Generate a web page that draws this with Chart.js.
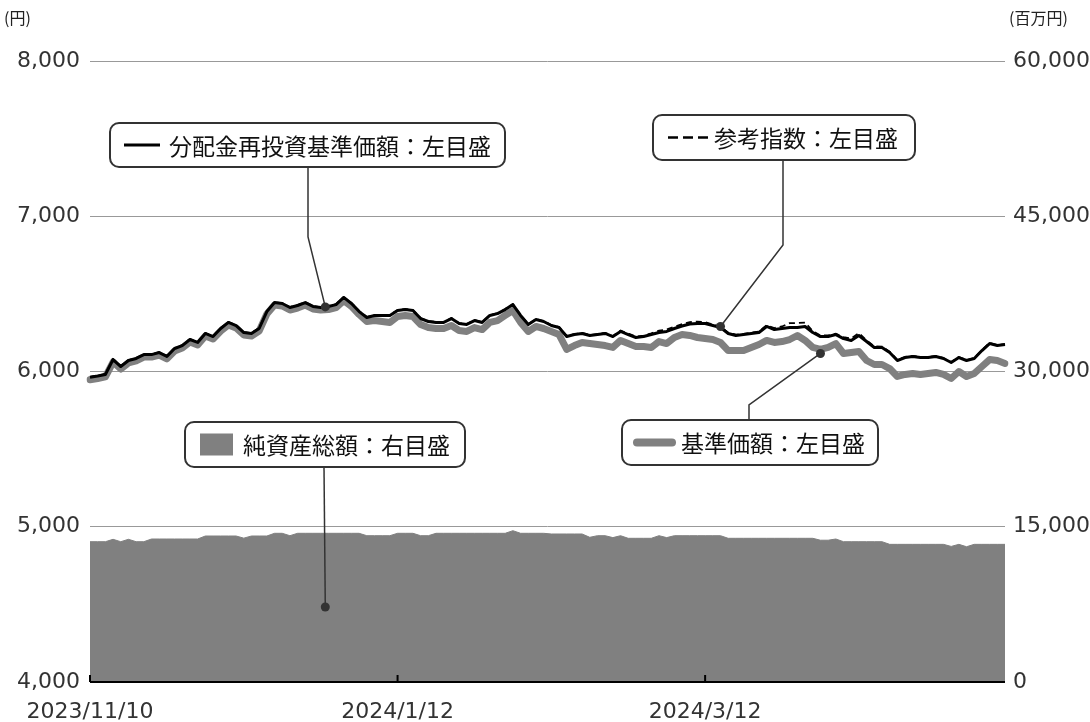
<!DOCTYPE html>
<html>
<head>
<meta charset="utf-8">
<script src="https://cdn.jsdelivr.net/npm/chart.js@4.4.1/dist/chart.umd.min.js"></script>
<style>
  html, body { margin: 0; padding: 0; background: #fff; }
  #wrap { width: 1090px; height: 722px; }
</style>
</head>
<body>
<div id="wrap"><canvas id="fund" width="1090" height="722"></canvas></div>
<script>
// trading days 2023/11/10 - 2024/5/10
const dates = [
  '2023/11/10','2023/11/13','2023/11/14','2023/11/15','2023/11/16','2023/11/17','2023/11/20','2023/11/21','2023/11/22','2023/11/24',
  '2023/11/27','2023/11/28','2023/11/29','2023/11/30','2023/12/1','2023/12/4','2023/12/5','2023/12/6','2023/12/7','2023/12/8',
  '2023/12/11','2023/12/12','2023/12/13','2023/12/14','2023/12/15','2023/12/18','2023/12/19','2023/12/20','2023/12/21','2023/12/22',
  '2023/12/25','2023/12/26','2023/12/27','2023/12/28','2023/12/29','2024/1/4','2024/1/5','2024/1/9','2024/1/10','2024/1/11',
  '2024/1/12','2024/1/15','2024/1/16','2024/1/17','2024/1/18','2024/1/19','2024/1/22','2024/1/23','2024/1/24','2024/1/25',
  '2024/1/26','2024/1/29','2024/1/30','2024/1/31','2024/2/1','2024/2/2','2024/2/5','2024/2/6','2024/2/7','2024/2/8',
  '2024/2/9','2024/2/13','2024/2/14','2024/2/15','2024/2/16','2024/2/19','2024/2/20','2024/2/21','2024/2/22','2024/2/26',
  '2024/2/27','2024/2/28','2024/2/29','2024/3/1','2024/3/4','2024/3/5','2024/3/6','2024/3/7','2024/3/8','2024/3/11',
  '2024/3/12','2024/3/13','2024/3/14','2024/3/15','2024/3/18','2024/3/19','2024/3/21','2024/3/22','2024/3/25','2024/3/26',
  '2024/3/27','2024/3/28','2024/3/29','2024/4/1','2024/4/2','2024/4/3','2024/4/4','2024/4/5','2024/4/8','2024/4/9',
  '2024/4/10','2024/4/11','2024/4/12','2024/4/15','2024/4/16','2024/4/17','2024/4/18','2024/4/19','2024/4/22','2024/4/23',
  '2024/4/24','2024/4/25','2024/4/26','2024/4/30','2024/5/1','2024/5/2','2024/5/7','2024/5/8','2024/5/9','2024/5/10'
];
const tickDates = ['2023/11/10', '2024/1/12', '2024/3/12'];

// 分配金再投資基準価額 (円)
const reinvested = [
  5963,5971,5981,6077,6032,6071,6084,6109,6109,6122,
  6097,6148,6167,6206,6187,6245,6225,6277,6316,6296,
  6251,6245,6277,6386,6444,6438,6412,6425,6444,6419,
  6412,6419,6431,6477,6438,6386,6348,6361,6361,6361,
  6393,6399,6393,6341,6322,6316,6316,6341,6309,6303,
  6328,6316,6361,6373,6399,6431,6361,6303,6335,6322,
  6296,6283,6225,6238,6245,6232,6238,6245,6225,6258,
  6238,6219,6225,6238,6251,6258,6277,6293,6306,6309,
  6309,6296,6283,6245,6232,6238,6245,6251,6290,6270,
  6277,6283,6283,6290,6251,6225,6225,6238,6212,6200,
  6232,6193,6155,6155,6122,6071,6090,6097,6090,6090,
  6097,6084,6058,6090,6071,6084,6135,6180,6167,6174
];

// 参考指数 (円)
const refIndex = [
  5965,5973,5984,6080,6035,6073,6086,6111,6112,6125,
  6099,6150,6170,6208,6190,6247,6228,6280,6318,6299,
  6254,6248,6280,6388,6446,6440,6415,6428,6447,6421,
  6415,6422,6434,6479,6441,6389,6351,6364,6364,6364,
  6396,6402,6396,6344,6325,6319,6319,6344,6312,6306,
  6331,6319,6364,6376,6402,6434,6364,6306,6338,6325,
  6299,6286,6228,6241,6248,6235,6241,6248,6228,6264,
  6244,6225,6231,6246,6263,6270,6289,6305,6318,6321,
  6318,6302,6290,6250,6237,6243,6250,6258,6298,6280,
  6290,6312,6312,6315,6260,6232,6232,6244,6222,6213,
  6247,6200,6162,6160,6127,6075,6094,6100,6094,6093,
  6100,6087,6061,6093,6074,6087,6138,6184,6170,6177
];

// 基準価額 (円)
const navPrice = [
  5947,5955,5965,6061,6016,6055,6068,6093,6093,6106,
  6081,6132,6151,6190,6171,6229,6209,6261,6300,6280,
  6235,6229,6261,6370,6428,6422,6396,6409,6428,6403,
  6396,6399,6412,6457,6419,6367,6322,6328,6322,6316,
  6354,6361,6354,6303,6283,6277,6277,6296,6264,6258,
  6283,6270,6316,6328,6361,6393,6316,6258,6290,6277,
  6258,6238,6142,6167,6187,6180,6174,6167,6155,6200,
  6180,6161,6161,6155,6193,6180,6219,6238,6232,6219,
  6212,6206,6187,6135,6135,6135,6155,6174,6200,6187,
  6193,6206,6232,6200,6155,6142,6155,6180,6116,6122,
  6129,6071,6045,6045,6019,5968,5981,5987,5981,5987,
  5994,5981,5955,6000,5968,5987,6032,6077,6071,6052
];

// 純資産総額 (百万円)
const netAssets = [
  13556,13556,13556,13787,13556,13787,13556,13556,13816,13816,
  13816,13816,13816,13816,13816,14106,14106,14106,14106,14106,
  13900,14106,14106,14106,14367,14367,14135,14367,14367,14367,
  14367,14367,14367,14367,14367,14367,14135,14135,14135,14135,
  14367,14367,14367,14135,14135,14367,14367,14367,14367,14367,
  14367,14367,14367,14367,14367,14619,14367,14367,14367,14367,
  14300,14300,14300,14300,14300,13980,14135,14135,13950,14135,
  13884,13884,13884,13884,14135,13950,14135,14135,14135,14135,
  14135,14135,14135,13884,13884,13884,13884,13884,13884,13884,
  13884,13884,13884,13884,13884,13700,13700,13816,13556,13556,
  13556,13556,13556,13556,13300,13300,13300,13300,13300,13300,
  13300,13300,13100,13300,13072,13300,13300,13300,13300,13300
];

const leftTicks = [4000, 5000, 6000, 7000, 8000];
const rightTicks = [0, 15000, 30000, 45000, 60000];

const GRAY = '#808080';
const INK = '#333333';
const FONT = '"Noto Sans CJK JP", "Noto Sans", sans-serif';
const NUM_FONT = '"DejaVu Sans", "Noto Sans CJK JP", sans-serif';

const roundRect = (ctx, x, y, w, h, r) => {
  ctx.beginPath();
  ctx.moveTo(x + r, y);
  ctx.arcTo(x + w, y, x + w, y + h, r);
  ctx.arcTo(x + w, y + h, x, y + h, r);
  ctx.arcTo(x, y + h, x, y, r);
  ctx.arcTo(x, y, x + w, y, r);
  ctx.closePath();
};

// boxes, leader lines, unit labels and the bottom axis
const decorations = {
  id: 'decorations',
  afterDatasetsDraw(chart) {
    const { ctx, chartArea, scales } = chart;
    const xs = scales.x, yl = scales.y, yr = scales.y2;
    ctx.save();

    // bottom axis line + inward ticks
    ctx.strokeStyle = '#000';
    ctx.lineWidth = 2;
    ctx.beginPath();
    ctx.moveTo(chartArea.left, chartArea.bottom);
    ctx.lineTo(chartArea.right, chartArea.bottom);
    tickDates.forEach(d => {
      const px = xs.getPixelForValue(dates.indexOf(d));
      ctx.moveTo(px, chartArea.bottom);
      ctx.lineTo(px, chartArea.bottom - 7);
    });
    ctx.stroke();

    // unit labels
    ctx.fillStyle = '#222';
    ctx.font = '16px ' + FONT;
    ctx.textBaseline = 'middle';
    ctx.textAlign = 'left';
    ctx.fillText('(円)', 4, 18);
    ctx.fillText('(百万円)', 1009, 18);

    // leader lines
    const leader = (pts, dot) => {
      ctx.strokeStyle = INK;
      ctx.lineWidth = 1.5;
      ctx.beginPath();
      ctx.moveTo(pts[0][0], pts[0][1]);
      pts.slice(1).forEach(p => ctx.lineTo(p[0], p[1]));
      ctx.lineTo(dot[0], dot[1]);
      ctx.stroke();
      ctx.fillStyle = INK;
      ctx.beginPath();
      ctx.arc(dot[0], dot[1], 4.5, 0, Math.PI * 2);
      ctx.fill();
    };
    const at = (i, v, axis) => [xs.getPixelForValue(i), axis.getPixelForValue(v)];

    leader([[308, 167], [308, 237]], at(30.6, 6416, yl));
    leader([[783, 160], [783, 245]], at(82, refIndex[82], yl));
    leader([[324, 467]], at(30.6, 7250, yr));
    const d4 = at(95, navPrice[95], yl);
    leader([[749, 420], [749, 405]], [d4[0], d4[1] + 4]);

    // annotation boxes
    const box = (x, y, w, h, text, tx, swatch) => {
      roundRect(ctx, x, y, w, h, 9);
      ctx.fillStyle = '#fff';
      ctx.fill();
      ctx.strokeStyle = INK;
      ctx.lineWidth = 2;
      ctx.stroke();
      swatch(y + h / 2);
      ctx.fillStyle = '#111';
      ctx.font = '23px ' + FONT;
      ctx.textAlign = 'left';
      ctx.textBaseline = 'middle';
      ctx.fillText(text, tx, y + h / 2 + 1);
    };

    box(110, 123, 395, 44, '分配金再投資基準価額：左目盛', 169, cy => {
      ctx.strokeStyle = '#000';
      ctx.lineWidth = 3;
      ctx.setLineDash([]);
      ctx.beginPath();
      ctx.moveTo(124, cy);
      ctx.lineTo(160, cy);
      ctx.stroke();
    });
    box(653, 115, 262, 45, '参考指数：左目盛', 714, cy => {
      ctx.strokeStyle = '#000';
      ctx.lineWidth = 2.5;
      ctx.setLineDash([10, 5]);
      ctx.beginPath();
      ctx.moveTo(668, cy);
      ctx.lineTo(708, cy);
      ctx.stroke();
      ctx.setLineDash([]);
    });
    box(185, 422, 280, 45, '純資産総額：右目盛', 243, cy => {
      ctx.fillStyle = GRAY;
      ctx.fillRect(200, cy - 11, 33, 22);
    });
    box(622, 420, 256, 45, '基準価額：左目盛', 681, cy => {
      ctx.strokeStyle = GRAY;
      ctx.lineWidth = 8;
      ctx.lineCap = 'round';
      ctx.beginPath();
      ctx.moveTo(637, cy);
      ctx.lineTo(672, cy);
      ctx.stroke();
      ctx.lineCap = 'butt';
    });

    ctx.restore();
  }
};

const tickFont = { family: NUM_FONT, size: 22, weight: 400 };

const buildChart = () => {
  const ctx = document.getElementById('fund');

  new Chart(ctx, {
    type: 'line',
    data: {
      labels: dates,
      datasets: [
        {
          label: '純資産総額',
          data: netAssets,
          yAxisID: 'y2',
          fill: 'origin',
          backgroundColor: GRAY,
          borderColor: GRAY,
          borderWidth: 1,
          pointRadius: 0,
          order: 4
        },
        {
          label: '基準価額',
          data: navPrice,
          yAxisID: 'y',
          borderColor: GRAY,
          borderWidth: 7,
          borderJoinStyle: 'round',
          borderCapStyle: 'round',
          pointRadius: 0,
          fill: false,
          order: 3
        },
        {
          label: '分配金再投資基準価額',
          data: reinvested,
          yAxisID: 'y',
          borderColor: '#000',
          borderWidth: 3,
          borderJoinStyle: 'round',
          pointRadius: 0,
          fill: false,
          order: 2
        },
        {
          label: '参考指数',
          data: refIndex,
          yAxisID: 'y',
          borderColor: '#000',
          borderWidth: 1.8,
          borderDash: [6, 4],
          pointRadius: 0,
          fill: false,
          order: 1
        }
      ]
    },
    options: {
      responsive: false,
      animation: false,
      devicePixelRatio: 1,
      layout: { padding: { top: 61, left: 0, right: 0, bottom: 0 } },
      plugins: {
        legend: { display: false },
        tooltip: { enabled: false }
      },
      scales: {
        x: {
          grid: { display: false },
          border: { display: false },
          ticks: {
            autoSkip: false,
            maxRotation: 0,
            padding: 9,
            color: '#333',
            font: tickFont,
            callback: (v, i) => tickDates.includes(dates[i]) ? dates[i] : ''
          },
          afterFit: s => { s.height = 40; }
        },
        y: {
          position: 'left',
          min: leftTicks[0],
          max: leftTicks[leftTicks.length - 1],
          afterBuildTicks: s => { s.ticks = leftTicks.map(v => ({ value: v })); },
          grid: { color: '#999', lineWidth: 1, drawTicks: false },
          border: { display: false },
          ticks: {
            padding: 10,
            color: '#333',
            font: tickFont,
            callback: v => v.toLocaleString('en-US')
          },
          afterFit: s => { s.width = 90; }
        },
        y2: {
          position: 'right',
          min: rightTicks[0],
          max: rightTicks[rightTicks.length - 1],
          afterBuildTicks: s => { s.ticks = rightTicks.map(v => ({ value: v })); },
          grid: { display: false, drawTicks: false },
          border: { display: false },
          ticks: {
            padding: 8,
            color: '#333',
            font: tickFont,
            callback: v => v.toLocaleString('en-US')
          },
          afterFit: s => { s.width = 85; }
        }
      }
    },
    plugins: [decorations]
  });
};

(() => {
  buildChart();
})();
</script>
</body>
</html>
